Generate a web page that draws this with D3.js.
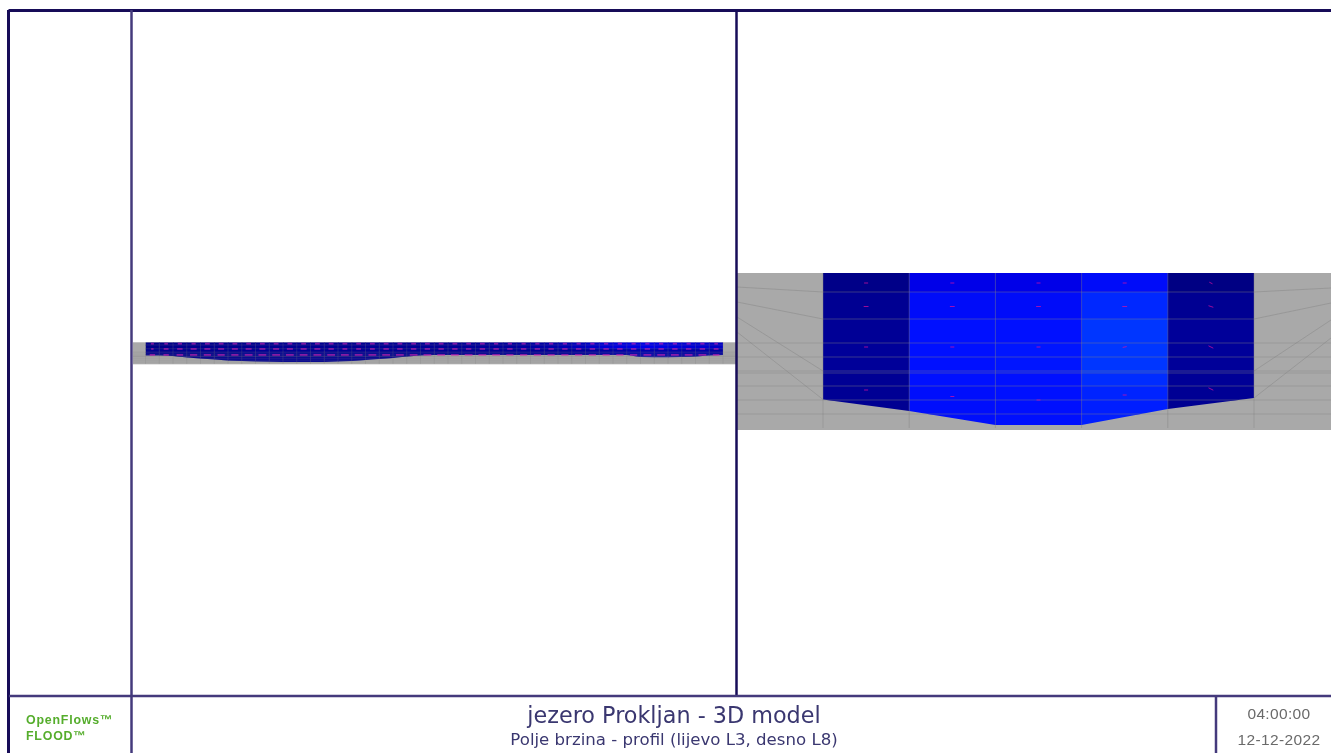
<!DOCTYPE html>
<html><head><meta charset="utf-8">
<script src="https://cdn.jsdelivr.net/npm/d3@7"></script>
<style>html,body{margin:0;padding:0;background:#fff;overflow:hidden}svg{display:block;filter:blur(0.65px)}</style>
</head><body><svg id="c" width="1331" height="753"></svg>
<script>
// model units: station = cell index, depth in metres
const titleText = "jezero Prokljan - 3D model";
const subtitleText = "Polje brzina - profil (lijevo L3, desno L8)";
const logoLines = ["OpenFlows™", "FLOOD™"];
const timeLines = ["04:00:00", "12-12-2022"];
const levels = [0, 0.38, 0.92, 1.40, 1.68, 1.96, 2.00, 2.26, 2.54, 2.82, 3.10];
const bandDepth = 3.14;

// L8 (right)
const r_bottom = [2.53, 2.76, 3.04, 3.04, 2.72, 2.50];
const r_speed = [ // per layer, per column
  [0.10, 0.50, 0.50, 0.62, 0.08],
  [0.14, 0.62, 0.62, 0.76, 0.14],
  [0.16, 0.66, 0.66, 0.82, 0.17],
  [0.17, 0.66, 0.68, 0.82, 0.17],
  [0.17, 0.66, 0.68, 0.82, 0.17],
  [0.17, 0.66, 0.68, 0.82, 0.17],
  [0.15, 0.66, 0.66, 0.78, 0.16],
  [0.15, 0.64, 0.66, 0.74, 0.15],
  [0.14, 0.64, 0.65, 0.72, 0.14],
  [0.14, 0.64, 0.65, 0.72, 0.14]
];
const r_arrowDepths = [
  [0.20, 0.20, 0.20, 0.20, 0.20],
  [0.67, 0.67, 0.67, 0.67, 0.67],
  [1.48, 1.48, 1.48, 1.48, 1.48],
  [2.34, 2.47, 2.54, 2.44, 2.32]
];
const r_arrowU = [
  [0.05, 0.05, 0.05, 0.05, -0.04],
  [0.06, 0.06, 0.06, 0.06, -0.06],
  [0.05, 0.05, 0.05, 0.05, -0.06],
  [0.05, 0.05, 0.05, 0.05, -0.06]
];
const r_arrowW = [
  [0, 0, 0, 0, 0.02],
  [0, 0, 0, 0, 0.02],
  [0, 0, 0, 0.01, 0.03],
  [0, 0, 0, 0, 0.03]
];
const r_fanLeft = [[0.28, 0.38], [0.58, 0.92], [0.88, 1.96], [1.18, 2.53]];
const r_fanRight = [[0.38, 0.30], [0.92, 0.60], [1.96, 0.94], [2.50, 1.30]];

// L3 (left)
const l_bottom = [1.89,1.89,1.96,2.17,2.31,2.46,2.60,2.67,2.74,2.77,2.81,2.81,2.81,2.81,2.74,2.67,2.53,2.39,2.24,2.03,1.89,1.81,1.81,1.81,1.81,1.81,1.81,1.81,1.81,1.81,1.81,1.81,1.81,1.81,1.81,1.81,2.10,2.13,2.13,2.10,2.03,1.89,1.81];
const l_speedTop = [.10,.11,.12,.12,.12,.13,.13,.13,.14,.14,.14,.14,.14,.14,.14,.14,.15,.15,.15,.15,.16,.16,.16,.17,.17,.18,.18,.20,.22,.24,.28,.32,.36,.42,.46,.48,.50,.48,.44,.42,.40,.36];
const l_speedLow = [.12,.12,.12,.12,.13,.13,.13,.14,.14,.14,.14,.14,.14,.14,.14,.14,.14,.14,.14,.14,.14,.14,.14,.14,.14,.14,.15,.15,.15,.16,.16,.17,.18,.20,.22,.24,.26,.24,.24,.22,.22,.20];
const l_arrow1 = [.05,.06,.07,.07,.08,.08,.08,.08,.08,.08,.08,.08,.08,.08,.08,.08,.08,.08,.08,.08,.08,.08,.08,.08,.08,.07,.07,.07,.07,.07,.07,.07,.07,.07,.07,.07,.07,.07,.07,.07,.07,.06];
const l_arrow2 = [.04,.08,.09,.10,.10,.10,.10,.10,.10,.10,.10,.10,.10,.09,.08,.08,.08,.09,.09,.09,.09,.09,.09,.09,.09,.09,.09,.09,.09,.09,.09,.09,.09,.09,.09,.09,.09,.09,.09,.09,.09,.08];
const l_arrow3 = [.09,.09,.11,.12,.12,.12,.12,.13,.13,.13,.13,.13,.13,.13,.13,.13,.13,.13,.13,.13,.13,.13,.13,.13,.13,.13,.12,.12,.12,.12,.12,.12,.12,.12,.12,.12,.13,.13,.13,.13,.13,.11];
const l_arrowDepths = [0.2, 0.95, 1.8];

const color = d3.scaleLinear().domain([0, 0.1, 0.5, 0.66, 1]).range(["#000070", "#000088", "#0000e8", "#0010ff", "#0060ff"]).clamp(true);

const svg = d3.select("#c");
const GREY = "#a9a9a9", GRID = "#808080", FRAME = "#443a7c", FRAME_D = "#170c58";

function panel(o) {
  const g = svg.append("g");
  const n = o.bottom.length - 1;
  const x = d3.scaleLinear().domain([0, n]).range(o.xr);
  const y = d3.scaleLinear().domain([0, bandDepth]).range(o.yr);
  const [L, R] = o.clip;
  g.append("rect").attr("x", L).attr("width", R - L).attr("y", y(0)).attr("height", y(bandDepth) - y(0)).attr("fill", GREY);
  const id = o.id + "w";
  const area = d3.area().x((d, i) => x(i)).y0(y(0)).y1(d => y(d));
  svg.append("clipPath").attr("id", id).append("path").attr("d", area(o.bottom));
  const w = g.append("g").attr("clip-path", `url(#${id})`);
  const cells = [];
  for (let l = 0; l < levels.length - 1; l++) for (let c = 0; c < n; c++) cells.push({l, c, v: o.speed(l, c)});
  w.selectAll("rect").data(cells).join("rect")
    .attr("x", d => x(d.c)).attr("width", d => x(d.c + 1) - x(d.c) + 0.5)
    .attr("y", d => y(levels[d.l])).attr("height", d => y(levels[d.l + 1]) - y(levels[d.l]) + 0.5)
    .attr("fill", d => color(d.v));
  // grid
  const grid = g.append("g").attr("stroke", GRID).attr("stroke-opacity", o.gridOp).attr("stroke-width", o.gridW).attr("fill", "none");
  grid.selectAll("line.v").data(d3.range(n + 1)).join("line").attr("class", "v")
    .attr("x1", d => x(d)).attr("x2", d => x(d)).attr("y1", y(0)).attr("y2", y(levels[levels.length - 1]));
  grid.selectAll("line.h").data(levels.slice(1, -1)).join("line").attr("class", "h")
    .attr("x1", d => d < o.minOuter ? x(0) : L).attr("x2", d => d < o.minOuter ? x(n) : R)
    .attr("y1", d => y(d)).attr("y2", d => y(d));
  return {g, x, y, grid, L, R, n};
}

// left panel
const left = panel({
  id: "l", bottom: l_bottom, xr: [145.5, 723], yr: [342.3, 364.3], clip: [133, 736],
  speed: (l, c) => (l < 2 ? l_speedTop[c] : l_speedLow[c]),
  gridOp: 0.4, gridW: 0.6, minOuter: 1.0
});
const lA = left.g.append("g").attr("stroke", "#d020b0").attr("stroke-opacity", 0.6).attr("stroke-width", 1.8);
[l_arrow1, l_arrow2, l_arrow3].forEach((u, k) => {
  lA.selectAll(null).data(u).join("line")
    .attr("x1", (d, i) => left.x(i + 0.5) - d * 30).attr("x2", (d, i) => left.x(i + 0.5) + d * 30)
    .attr("y1", left.y(l_arrowDepths[k])).attr("y2", left.y(l_arrowDepths[k]));
});

// right panel
const right = panel({
  id: "r", bottom: r_bottom, xr: [823, 1254], yr: [273, 430], clip: [737, 1331],
  speed: (l, c) => r_speed[l][c],
  gridOp: 0.42, gridW: 1, minOuter: 1.0
});
const fan = right.g.append("g").attr("stroke", GRID).attr("stroke-opacity", 0.42).attr("fill", "none");
fan.selectAll("line.a").data(r_fanLeft).join("line").attr("class", "a")
  .attr("x1", 737).attr("x2", right.x(0)).attr("y1", d => right.y(d[0])).attr("y2", d => right.y(d[1]));
fan.selectAll("line.b").data(r_fanRight).join("line").attr("class", "b")
  .attr("x1", right.x(5)).attr("x2", 1331).attr("y1", d => right.y(d[0])).attr("y2", d => right.y(d[1]));
const rA = right.g.append("g").attr("stroke", "#e0109c").attr("stroke-opacity", 0.7).attr("stroke-width", 1);
r_arrowDepths.forEach((row, k) => {
  rA.selectAll(null).data(row).join("line")
    .attr("x1", (d, i) => right.x(i + 0.5) - r_arrowU[k][i] * 40).attr("x2", (d, i) => right.x(i + 0.5) + r_arrowU[k][i] * 40)
    .attr("y1", (d, i) => right.y(d) + r_arrowW[k][i] * 40).attr("y2", (d, i) => right.y(d) - r_arrowW[k][i] * 40);
});

// frame
const frame = [
  [8.5, 10.5, 1331, 10.5, FRAME_D, 3], [8.5, 10, 8.5, 753, FRAME_D, 3],
  [131.5, 10, 131.5, 753, FRAME, 2.5], [736.5, 10, 736.5, 696, FRAME_D, 2.5],
  [9, 696, 1331, 696, FRAME, 2.5], [1216, 696, 1216, 753, FRAME, 2.5]
];
svg.append("g").selectAll("line").data(frame).join("line")
  .attr("x1", d => d[0]).attr("y1", d => d[1]).attr("x2", d => d[2]).attr("y2", d => d[3])
  .attr("stroke", d => d[4]).attr("stroke-width", d => d[5]);

// texts
const T = (s, x, y, size, fill, fam, anchor, weight, ls) => svg.append("text").text(s).attr("x", x).attr("y", y)
  .attr("font-size", size).attr("fill", fill).attr("font-family", fam).attr("text-anchor", anchor).attr("font-weight", weight || 400).attr("letter-spacing", ls || 0);
T(titleText, 674, 723, 22.3, "#3a3770", "'DejaVu Sans'", "middle");
T(subtitleText, 674, 745, 16.6, "#3a3770", "'DejaVu Sans'", "middle");
logoLines.forEach((s, i) => T(s, 26, 724 + i * 16, 12.4, "#55ad2c", "'Liberation Sans'", "start", 700, 0.8));
timeLines.forEach((s, i) => T(s, 1279, 719 + i * 25.5, 15.5, "#6a6a6a", "'Liberation Sans'", "middle", 400, 0.35));
</script></body></html>
